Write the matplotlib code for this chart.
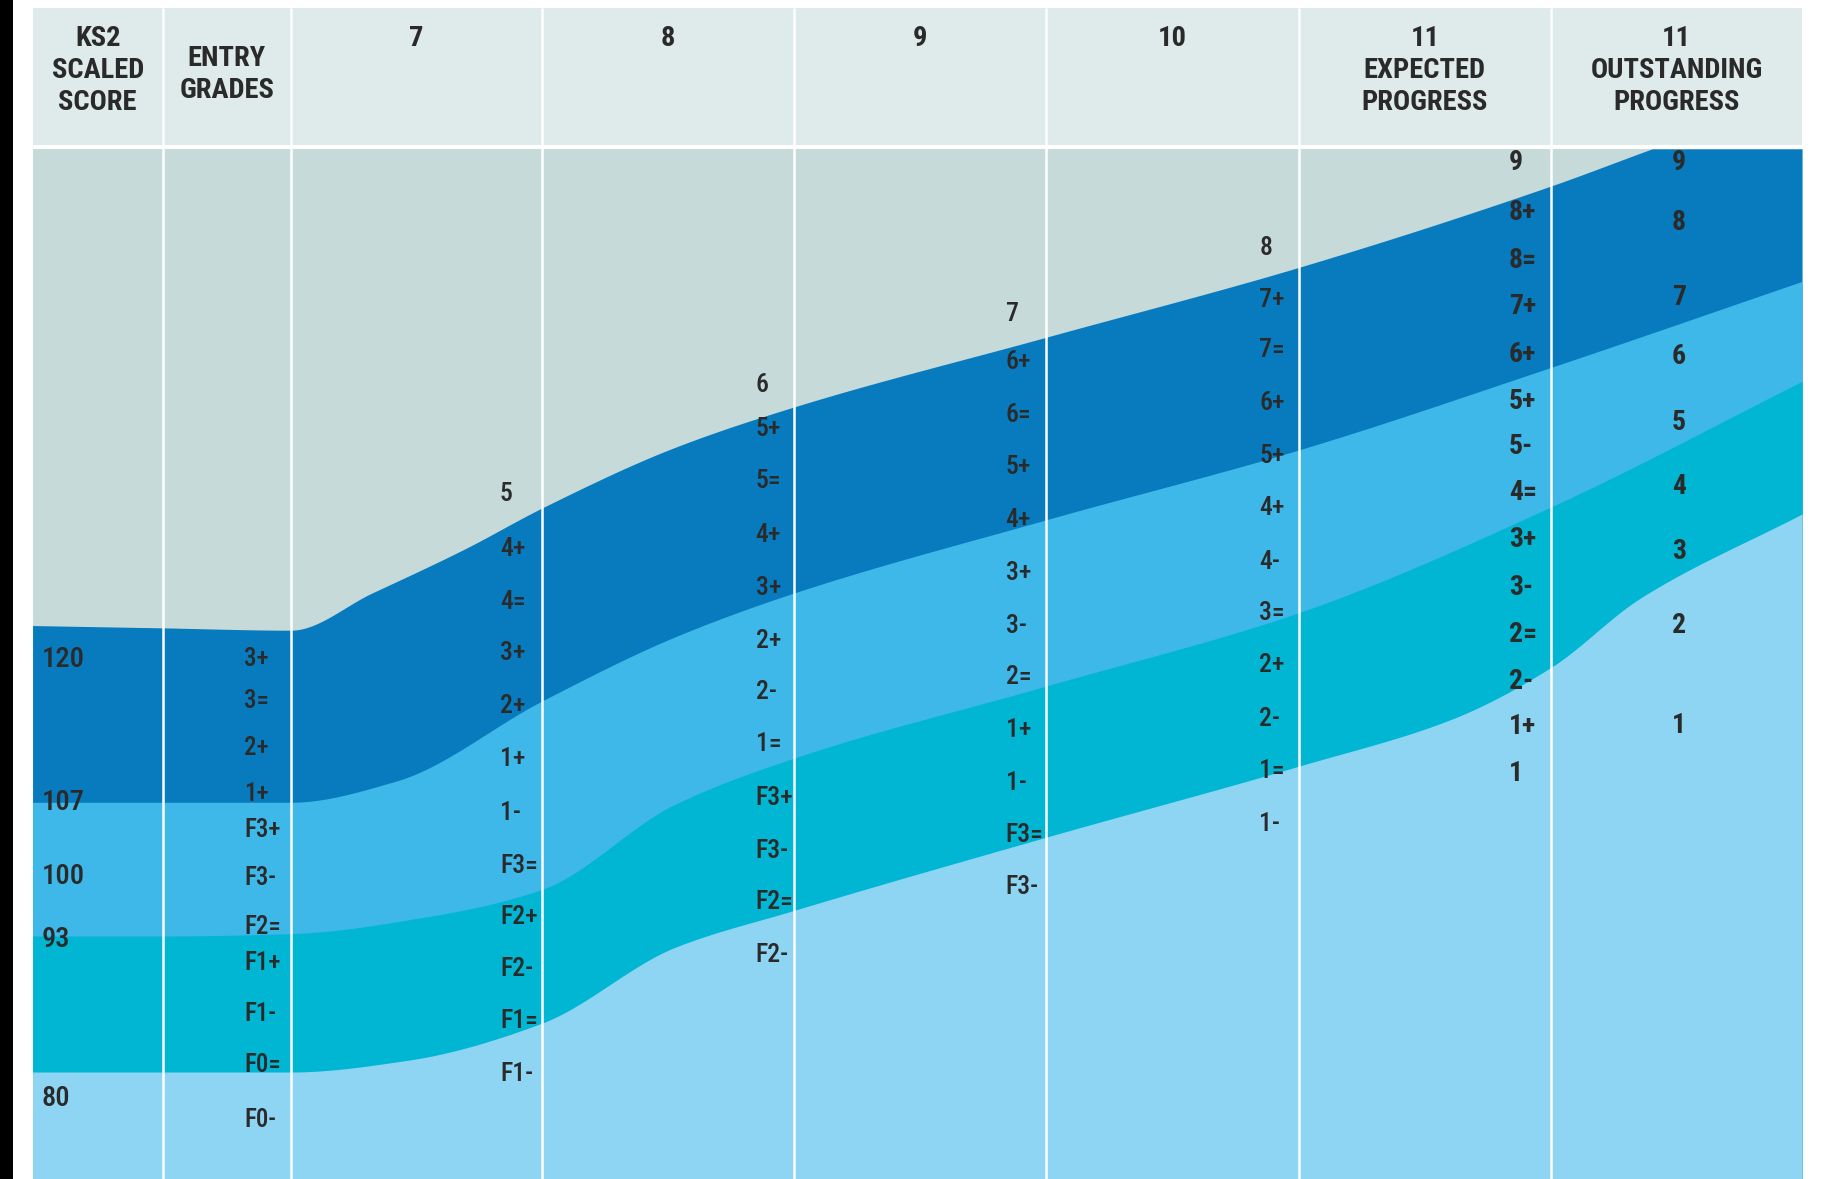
import numpy as np
import matplotlib
matplotlib.use("Agg")
import matplotlib.pyplot as plt
from matplotlib import font_manager

# ---------------- data ----------------
col_edges = [28, 140, 250, 466, 683, 900, 1117, 1334, 1550]
headers = ["KS2\nSCALED\nSCORE", "ENTRY\nGRADES", "7", "8", "9", "10",
           "11\nEXPECTED\nPROGRESS", "11\nOUTSTANDING\nPROGRESS"]

# band boundaries (upper edge of each band), x along the chart, y level
top_x = [28, 140, 250, 320, 400, 466, 580, 683, 900, 1117, 1334, 1421, 1550]
top_y = [538, 540, 542, 510, 472, 437, 385, 350, 290, 230, 160, 128, 82]

dark_x = [28, 140, 250, 340, 466, 580, 683, 900, 1117, 1334, 1550]
dark_y = [690, 690, 690, 672, 603, 548, 510, 447, 387, 316, 242]

mid_x = [28, 140, 250, 370, 466, 580, 683, 900, 1117, 1334, 1550]
mid_y = [805, 805, 803, 788, 765, 692, 652, 590, 527, 436, 328]

low_x = [28, 140, 250, 350, 466, 580, 683, 900, 1117, 1250, 1334, 1410, 1550]
low_y = [922, 922, 922, 912, 880, 815, 783, 720, 659, 618, 574, 515, 442]

# KS2 scaled scores
ks2_labels = ["120", "107", "100", "93", "80"]
ks2_y = [567, 690, 754, 808, 945]

# entry grades
entry_labels = ["3+", "3=", "2+", "1+", "F3+", "F3-", "F2=", "F1+", "F1-", "F0=", "F0-"]
entry_y = [567, 603, 643, 683, 714, 755, 797, 828, 872, 916, 963]

y7_labels = ["5", "4+", "4=", "3+", "2+", "1+", "1-", "F3=", "F2+", "F2-", "F1=", "F1-"]
y7_y = [425, 472, 518, 562, 607, 653, 699, 745, 789, 833, 878, 924]

y8_labels = ["6", "5+", "5=", "4+", "3+", "2+", "2-", "1=", "F3+", "F3-", "F2=", "F2-"]
y8_y = [331, 369, 414, 460, 506, 551, 595, 640, 686, 732, 776, 821]

y9_labels = ["7", "6+", "6=", "5+", "4+", "3+", "3-", "2=", "1+", "1-", "F3=", "F3-"]
y9_y = [270, 311, 357, 402, 447, 493, 538, 582, 628, 673, 718, 763]

y10_labels = ["8", "7+", "7=", "6+", "5+", "4+", "4-", "3=", "2+", "2-", "1=", "1-"]
y10_y = [213, 258, 301, 347, 392, 437, 483, 527, 572, 618, 663, 709]

y11e_labels = ["9", "8+", "8=", "7+", "6+", "5+", "5-", "4=", "3+", "3-", "2=", "2-", "1+", "1"]
y11e_y = [140, 183, 224, 264, 305, 345, 384, 424, 464, 505, 546, 586, 625, 665]

y11o_labels = ["9", "8", "7", "6", "5", "4", "3", "2", "1"]
y11o_y = [140, 191, 256, 307, 363, 418, 474, 538, 624]

# ---------------- styling ----------------
W, H = 1568, 1014
HEAD_TOP, HEAD_BOT, BODY_TOP = 7, 125, 128
C_HEAD = "#dfeaea"
C_GREY = "#c6dada"
C_DARK = "#077bbd"
C_MED = "#3eb7e9"
C_TEAL = "#00b6d3"
C_LIGHT = "#8ed5f4"
TXT = "#2a2a2a"

available = {f.name for f in font_manager.fontManager.ttflist}
FONT = [f for f in ["Roboto Condensed", "Liberation Sans Narrow", "Roboto", "DejaVu Sans"]
        if f in available]


def pchip(x, y, xs):
    x = np.asarray(x, float)
    y = np.asarray(y, float)
    h = np.diff(x)
    d = np.diff(y) / h
    m = np.zeros_like(y)
    for k in range(1, len(x) - 1):
        if d[k - 1] * d[k] > 0:
            w1 = 2 * h[k] + h[k - 1]
            w2 = h[k] + 2 * h[k - 1]
            m[k] = (w1 + w2) / (w1 / d[k - 1] + w2 / d[k])
    m[0] = d[0]
    m[-1] = d[-1]
    idx = np.clip(np.searchsorted(x, xs) - 1, 0, len(x) - 2)
    t = (xs - x[idx]) / h[idx]
    h00 = 2 * t**3 - 3 * t**2 + 1
    h10 = t**3 - 2 * t**2 + t
    h01 = -2 * t**3 + 3 * t**2
    h11 = t**3 - t**2
    return h00 * y[idx] + h10 * h[idx] * m[idx] + h01 * y[idx + 1] + h11 * h[idx] * m[idx + 1]


fig = plt.figure(figsize=(18.23, 11.79), dpi=100)
ax = fig.add_axes([0, 0, 1, 1])
ax.set_xlim(0, W)
ax.set_ylim(H, 0)
ax.axis("off")

left, right = col_edges[0], col_edges[-1]

# header and body background
ax.fill_between([left, right], HEAD_TOP, HEAD_BOT, color=C_HEAD, lw=0)
ax.fill_between([left, right], BODY_TOP, H, color=C_GREY, lw=0)

xs = np.linspace(left, right, 1500)
for bx, by, col in [(top_x, top_y, C_DARK), (dark_x, dark_y, C_MED),
                    (mid_x, mid_y, C_TEAL), (low_x, low_y, C_LIGHT)]:
    ys = np.maximum(pchip(bx, by, xs), BODY_TOP)
    ax.fill_between(xs, ys, H, color=col, lw=0)

# column dividers
ax.vlines(col_edges[1:-1], HEAD_TOP, H, color="white", lw=1.8)
ax.hlines((HEAD_BOT + BODY_TOP) / 2, left, right, color="white", lw=2.2)

# black frame line at left
ax.fill_between([0, 11], 0, H, color="black", lw=0)

# header texts
for i, t in enumerate(headers):
    cx = (col_edges[i] + col_edges[i + 1]) / 2
    n = t.count("\n") + 1
    y0 = 33 if n != 2 else 50
    for j, line in enumerate(t.split("\n")):
        ax.text(cx, y0 + j * 27.5, line, ha="center", va="center", fontsize=20.5,
                fontweight="bold", color=TXT, family=FONT)

# body labels
for lab, yy in zip(ks2_labels, ks2_y):
    ax.text(36, yy, lab, ha="left", va="center", fontsize=20.5, fontweight="medium",
            color=TXT, family=FONT)

columns = [(entry_labels, entry_y, 210, "medium", 18),
           (y7_labels, y7_y, 430, "medium", 18.5),
           (y8_labels, y8_y, 650, "medium", 18.5),
           (y9_labels, y9_y, 865, "medium", 18.5),
           (y10_labels, y10_y, 1083, "medium", 18.5),
           (y11e_labels, y11e_y, 1298, "bold", 20)]
for labs, ys_, x0, wt, fs in columns:
    for lab, yy in zip(labs, ys_):
        ax.text(x0, yy, lab, ha="left", va="center", fontsize=fs, fontweight=wt,
                color=TXT, family=FONT)

for lab, yy in zip(y11o_labels, y11o_y):
    ax.text(1444, yy, lab, ha="center", va="center", fontsize=20, fontweight="bold",
            color=TXT, family=FONT)

fig.savefig("out.png", dpi=100)
